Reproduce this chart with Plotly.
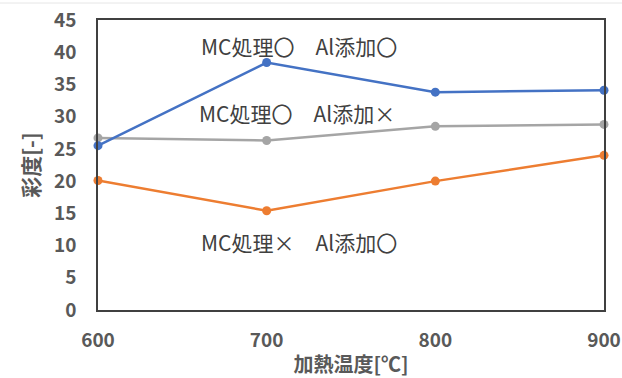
import plotly.graph_objects as go

temps = [600, 700, 800, 900]
mc_al = [25.5, 38.4, 33.8, 34.1]          # MC処理○ Al添加○ (blue)
mc_noal = [26.7, 26.3, 28.5, 28.8]        # MC処理○ Al添加× (gray)
nomc_al = [20.1, 15.4, 20.0, 24.0]        # MC処理× Al添加○ (orange)

labels = ["MC処理〇　Al添加〇", "MC処理〇　Al添加×", "MC処理×　Al添加〇"]
label_x = [299, 297, 299]
label_y = [41.0, 30.6, 10.5]

FONT = "Noto Sans CJK JP"
fig = go.Figure()
for ys, col in [(mc_noal, "#A5A5A5"), (nomc_al, "#ED7D31"), (mc_al, "#4472C4")]:
    fig.add_trace(go.Scatter(x=temps, y=ys, mode="lines+markers",
                             line=dict(color=col, width=2.5),
                             marker=dict(color=col, size=9),
                             cliponaxis=False, showlegend=False))

L, R, T, B = 98, 18, 20, 68
W, H = 622, 378
pw = W - L - R
for t, xp, yv in zip(labels, label_x, label_y):
    fig.add_annotation(x=(xp - L) / pw, xref="paper", y=yv, yref="y", text=t,
                       showarrow=False, font=dict(family=FONT, size=21, color="#404040"))

# faint top border line of the screenshot
ph = H - T - B
fig.add_shape(type="line", xref="paper", yref="paper",
              x0=-L / pw, x1=(W - L) / pw, y0=1 + (T - 3) / ph, y1=1 + (T - 3) / ph,
              line=dict(color="#E6E6E6", width=1))

fig.update_layout(
    width=W, height=H, margin=dict(l=L, r=R, t=T, b=B, autoexpand=False),
    paper_bgcolor="white", plot_bgcolor="white",
    font=dict(family=FONT, color="#595959"),
    xaxis=dict(range=[600, 900], tickvals=temps, showgrid=False, zeroline=False,
               showline=True, mirror=True, linecolor="#404040", linewidth=1.5,
               ticks="", ticklabelstandoff=12, automargin=False,
               tickfont=dict(family=FONT, size=19, color="#595959", weight="bold"),
               title=dict(text="加熱温度[℃]", standoff=8,
                          font=dict(family=FONT, size=20, color="#595959", weight="bold"))),
    yaxis=dict(range=[0, 45], dtick=5, showgrid=False, zeroline=False,
               showline=True, mirror=True, linecolor="#404040", linewidth=1.5,
               ticks="", ticklabelstandoff=16, automargin=False,
               tickfont=dict(family=FONT, size=19, color="#595959", weight="bold"),
               title=dict(text="彩度[-]", standoff=9,
                          font=dict(family=FONT, size=21, color="#595959", weight="bold"))),
)
fig.write_html("out.html")
